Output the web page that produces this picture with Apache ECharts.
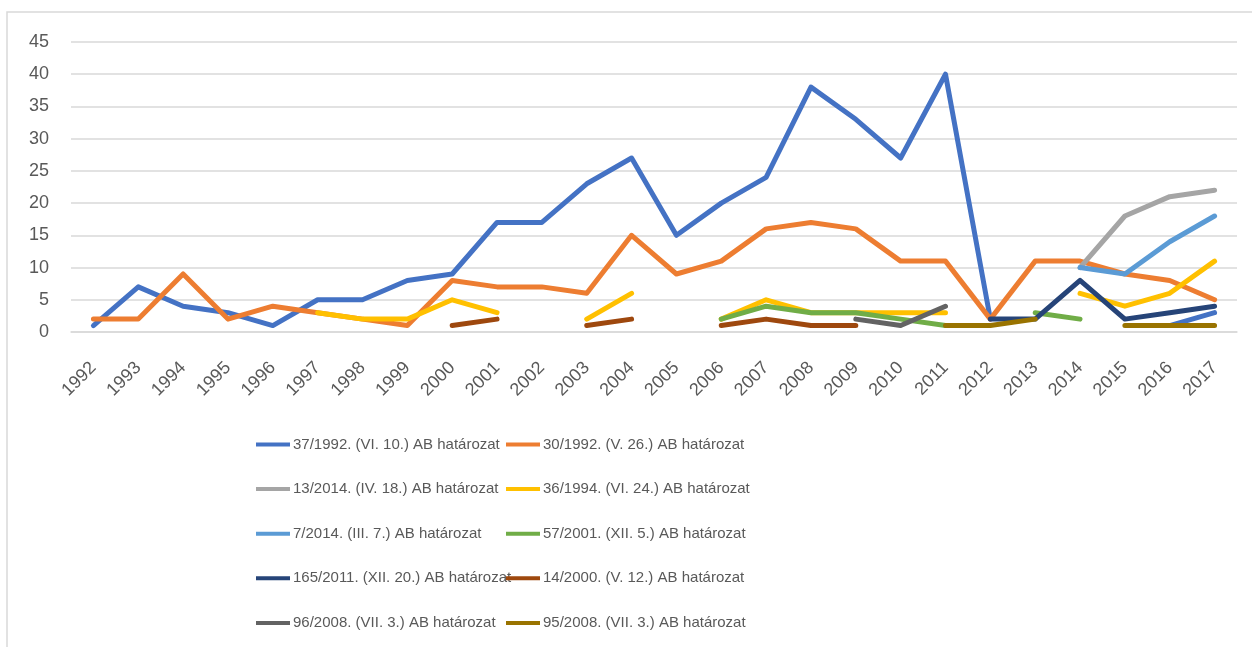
<!DOCTYPE html>
<html>
<head>
<meta charset="utf-8">
<script src="https://cdn.jsdelivr.net/npm/echarts@6/dist/echarts.min.js"></script>
<style>
  html, body { margin: 0; padding: 0; background: #fff; }
  #chart { width: 1252px; height: 647px; }
</style>
</head>
<body>
<div id="chart"></div>
<script>
// évek
const years = ['1992','1993','1994','1995','1996','1997','1998','1999','2000','2001','2002','2003','2004',
  '2005','2006','2007','2008','2009','2010','2011','2012','2013','2014','2015','2016','2017']

const names = [
  '37/1992. (VI. 10.) AB határozat',
  '30/1992. (V. 26.) AB határozat',
  '13/2014. (IV. 18.) AB határozat',
  '36/1994. (VI. 24.) AB határozat',
  '7/2014. (III. 7.) AB határozat',
  '57/2001. (XII. 5.) AB határozat',
  '165/2011. (XII. 20.) AB határozat',
  '14/2000. (V. 12.) AB határozat',
  '96/2008. (VII. 3.) AB határozat',
  '95/2008. (VII. 3.) AB határozat'
]

const colors = ['#4472C4','#ED7D31','#A5A5A5','#FFC000','#5B9BD5','#70AD47','#264478','#9E480E','#636363','#997300']

const s37_1992 = [1,7,4,3,1,5,5,8,9,17,17,23,27,15,20,24,38,33,27,40,2,null,null,null,1,3]
const s30_1992 = [2,2,9,2,4,3,2,1,8,7,7,6,15,9,11,16,17,16,11,11,2,11,11,9,8,5]
const s13_2014 = [null,null,null,null,null,null,null,null,null,null,null,null,null,null,null,null,null,null,null,null,null,null,10,18,21,22]
const s36_1994 = [null,null,null,null,null,3,2,2,5,3,null,2,6,null,2,5,3,3,3,3,null,null,6,4,6,11]
const s7_2014 = [null,null,null,null,null,null,null,null,null,null,null,null,null,null,null,null,null,null,null,null,null,null,10,9,14,18]
const s57_2001 = [null,null,null,null,null,null,null,null,null,null,null,null,null,null,2,4,3,3,2,1,null,3,2,null,null,null]
const s165_2011 = [null,null,null,null,null,null,null,null,null,null,null,null,null,null,null,null,null,null,null,null,2,2,8,2,3,4]
const s14_2000 = [null,null,null,null,null,null,null,null,1,2,null,1,2,null,1,2,1,1,null,null,null,null,null,null,null,null]
const s96_2008 = [null,null,null,null,null,null,null,null,null,null,null,null,null,null,null,null,null,2,1,4,null,null,null,null,null,null]
const s95_2008 = [null,null,null,null,null,null,null,null,null,null,null,null,null,null,null,null,null,null,null,1,1,2,null,1,1,1]

const seriesData = [s37_1992, s30_1992, s13_2014, s36_1994, s7_2014, s57_2001, s165_2011, s14_2000, s96_2008, s95_2008]

const font = "'Liberation Sans', Arial, sans-serif"

const chart = echarts.init(document.getElementById('chart'))

let series = seriesData.map((d, i) => ({
  name: names[i],
  type: 'line',
  data: d,
  showSymbol: false,
  symbol: 'none',
  connectNulls: false,
  lineStyle: { color: colors[i], width: 5, cap: 'round', join: 'round' },
  itemStyle: { color: colors[i] },
  z: 2 + i
}))

// két oszlopos jelmagyarázat
const leftNames = names.filter((n, i) => i % 2 == 0)
const rightNames = names.filter((n, i) => i % 2 == 1)
const legendBase = {
  orient: 'vertical',
  top: 432,
  itemGap: 29.6,
  itemWidth: 34,
  itemHeight: 22,
  icon: 'path://M0,9 L34,9 L34,13 L0,13 Z',
  textStyle: { fontFamily: font, fontSize: 15, color: '#595959', padding: [0, 0, 0, -2] }
}

const option = {
  backgroundColor: '#fff',
  animation: false,
  color: colors,
  graphic: [{
    type: 'rect',
    shape: { x: 7, y: 12, width: 1300, height: 700 },
    style: { fill: 'none', stroke: '#d9d9d9', lineWidth: 1.5 },
    silent: true
  }],
  legend: [
    Object.assign({}, legendBase, { left: 251, data: leftNames }),
    Object.assign({}, legendBase, { left: 501, data: rightNames })
  ],
  grid: { left: 71, right: 15, top: 42, bottom: 315, containLabel: false },
  xAxis: {
    type: 'category',
    boundaryGap: true,
    data: years,
    axisLine: { show: true, lineStyle: { color: '#d9d9d9', width: 1.5 } },
    axisTick: { show: false },
    axisLabel: { rotate: 45, fontFamily: font, fontSize: 18, color: '#595959', margin: 33, interval: 0 }
  },
  yAxis: {
    type: 'value',
    min: 0,
    max: 45,
    interval: 5,
    axisLine: { show: false },
    axisTick: { show: false },
    splitLine: { lineStyle: { color: '#d9d9d9', width: 1.5 } },
    axisLabel: { fontFamily: font, fontSize: 18, color: '#595959', margin: 22 }
  },
  series: series
}

chart.setOption(option)
</script>
</body>
</html>
